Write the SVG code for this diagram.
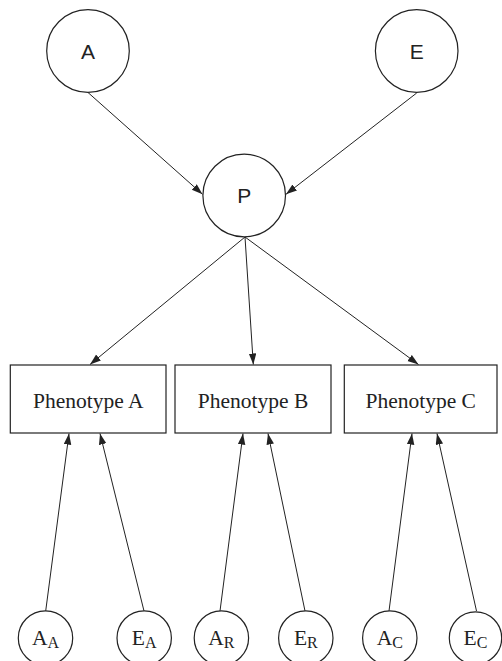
<svg xmlns="http://www.w3.org/2000/svg" width="502" height="661" viewBox="0 0 502 661">
<style>
.node{fill:#fff;stroke:#222;stroke-width:1.2}
.edge{stroke:#222;stroke-width:1;fill:none;marker-end:url(#arr)}
.sans{font-family:"Liberation Sans",Arial,sans-serif;font-size:21px;fill:#222;text-anchor:middle}
.serif{font-family:"Liberation Serif","Times New Roman",serif;font-size:21.5px;fill:#222;text-anchor:middle}
.sub{font-size:16px}
</style>
<defs>
<marker id="arr" markerUnits="userSpaceOnUse" markerWidth="12" markerHeight="9" refX="11" refY="3.75" orient="auto">
<path d="M0,0 L11,3.75 L0,7.5 z" fill="#222"/>
</marker>
</defs>
<rect width="502" height="661" fill="#fff"/>
<g id="connectors">
<line class="edge" x1="88" y1="92.5" x2="202.5" y2="194.3"/>
<line class="edge" x1="416.7" y1="93" x2="286" y2="194.3"/>
<line class="edge" x1="245" y1="237" x2="90" y2="364.5"/>
<line class="edge" x1="245" y1="237" x2="253.3" y2="364.5"/>
<line class="edge" x1="245" y1="237" x2="418.5" y2="364.5"/>
<line class="edge" x1="45.7" y1="611" x2="69" y2="433.5"/>
<line class="edge" x1="144" y1="611" x2="100" y2="433.5"/>
<line class="edge" x1="220" y1="611" x2="243" y2="433.5"/>
<line class="edge" x1="305" y1="611" x2="268" y2="433.5"/>
<line class="edge" x1="389" y1="611" x2="412" y2="433.5"/>
<line class="edge" x1="476.5" y1="611" x2="437" y2="433.5"/>
</g>
<g id="A"><circle class="node" cx="88" cy="51" r="41.3"/><text class="sans" x="88" y="59">A</text></g>
<g id="E"><circle class="node" cx="416.7" cy="51" r="41.3"/><text class="sans" x="416.7" y="59">E</text></g>
<g id="P"><circle class="node" cx="244.2" cy="195.5" r="41.3"/><text class="sans" x="244.2" y="203">P</text></g>
<g id="PhenA"><rect class="node" x="10.3" y="365" width="155.7" height="68"/><text class="serif" x="88.2" y="407.5">Phenotype A</text></g>
<g id="PhenB"><rect class="node" x="175" y="365" width="156" height="68"/><text class="serif" x="253" y="407.5">Phenotype B</text></g>
<g id="PhenC"><rect class="node" x="344.3" y="365" width="152.7" height="68"/><text class="serif" x="420.7" y="407.5">Phenotype C</text></g>
<g id="AA"><circle class="node" cx="45.5" cy="638" r="27.2"/><text class="serif" x="45.5" y="645">A<tspan class="sub" dy="2.7">A</tspan></text></g>
<g id="EA"><circle class="node" cx="144.2" cy="638" r="27.2"/><text class="serif" x="144.2" y="645">E<tspan class="sub" dy="2.7">A</tspan></text></g>
<g id="AR"><circle class="node" cx="221.4" cy="638" r="27.2"/><text class="serif" x="221.4" y="645">A<tspan class="sub" dy="2.7">R</tspan></text></g>
<g id="ER"><circle class="node" cx="305.8" cy="638" r="27.2"/><text class="serif" x="305.8" y="645">E<tspan class="sub" dy="2.7">R</tspan></text></g>
<g id="AC"><circle class="node" cx="389.8" cy="638" r="27.2"/><text class="serif" x="389.8" y="645">A<tspan class="sub" dy="2.7">C</tspan></text></g>
<g id="EC"><circle class="node" cx="475.5" cy="638" r="26.2"/><text class="serif" x="475.5" y="645">E<tspan class="sub" dy="2.7">C</tspan></text></g>
</svg>
